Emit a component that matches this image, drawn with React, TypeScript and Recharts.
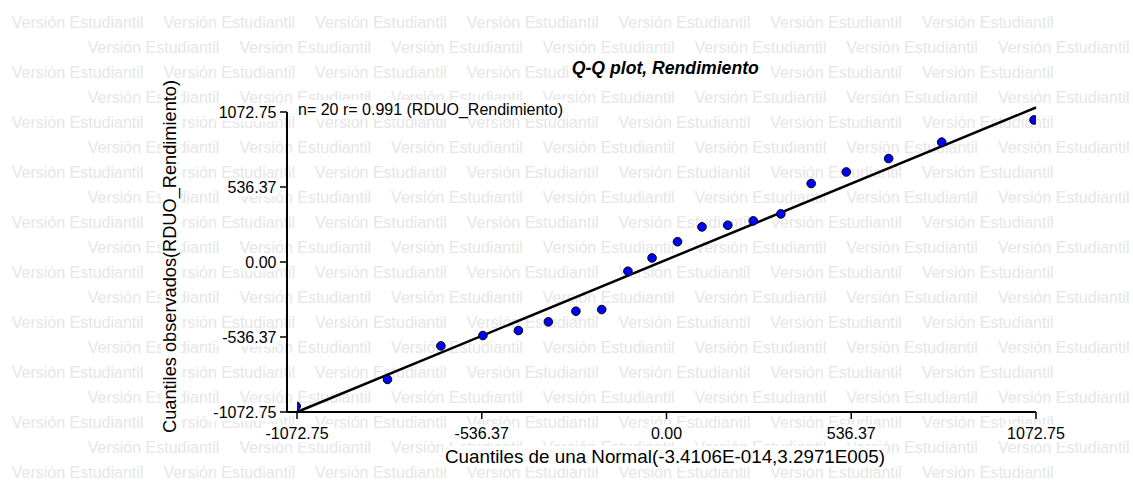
import React from "react";
import {
  ScatterChart,
  Scatter,
  XAxis,
  YAxis,
  ReferenceLine,
} from "recharts";

// theoretical normal quantiles (x) vs observed residual quantiles (y)
const normalQuantiles = [
  -1075, -810, -655, -533, -430, -343, -263, -188, -112, -42, 32, 103, 178,
  252, 332, 420, 522, 645, 799, 1067,
];
const observedQuantiles = [
  -1031, -840, -600, -526, -490, -428, -352, -340, -66, 29, 145, 251, 263,
  294, 344, 561, 644, 740, 857, 1016,
];

// fitted line end points
const fitX = [-1072.75, 1072.75];
const fitY = [-1072.75, 1105];

const axisTicks = [-1072.75, -536.37, 0, 536.37, 1072.75];
const axisDomain = [-1072.75, 1072.75];

const watermarkText = "Versión Estudiantil";

const points = normalQuantiles.map((x, i) => ({ x, y: observedQuantiles[i] }));

const FONT = "'Liberation Sans', Arial, sans-serif";

function XTick(props: any) {
  const { x, payload } = props;
  const label = Number(payload.value).toFixed(2);
  const w = label.length * 8.4 + 4;
  return (
    <g>
      <rect x={x - w / 2} y={424} width={w} height={18} fill="#fff" />
      <text
        x={x}
        y={438.5}
        textAnchor="middle"
        fontFamily={FONT}
        fontSize={16}
        fill="#000"
      >
        {label}
      </text>
    </g>
  );
}

function YTick(props: any) {
  const { y, payload } = props;
  const label = Number(payload.value).toFixed(2);
  const w = label.length * 8.4 + 4;
  return (
    <g>
      <rect x={278 - w} y={y - 9} width={w} height={18} fill="#fff" />
      <text
        x={276.5}
        y={y + 5.8}
        textAnchor="end"
        fontFamily={FONT}
        fontSize={16}
        fill="#000"
      >
        {label}
      </text>
    </g>
  );
}

function Dot(props: any) {
  const { cx, cy } = props;
  return <circle cx={cx} cy={cy} r={4.3} fill="#0000FF" stroke="#000" strokeWidth={1} />;
}

function Watermark() {
  const rows = [];
  for (let r = 0; r < 19; r++) {
    const startX = r % 2 === 0 ? 11.7 : 87.7;
    for (let j = 0; j < 7; j++) {
      rows.push(
        <text
          key={`${r}-${j}`}
          x={startX + j * 151.7}
          y={27.5 + r * 25}
          fontFamily={FONT}
          fontSize={16}
          textLength={131.7}
          lengthAdjust="spacingAndGlyphs"
          fill="#e6e6e6"
        >
          {watermarkText}
        </text>
      );
    }
  }
  return (
    <svg width={1133} height={481} style={{ position: "absolute", left: 0, top: 0 }}>
      {rows}
    </svg>
  );
}

function Labels() {
  return (
    <svg
      width={1133}
      height={481}
      style={{ position: "absolute", left: 0, top: 0, pointerEvents: "none" }}
    >
      {/* title */}
      <rect x={569} y={59} width={193} height={20} fill="#fff" />
      <text
        x={665.3}
        y={74}
        textAnchor="middle"
        fontFamily={FONT}
        fontSize={17.5}
        fontWeight="bold"
        fontStyle="italic"
        textLength={187}
        lengthAdjust="spacingAndGlyphs"
      >
        Q-Q plot, Rendimiento
      </text>

      {/* stats */}
      <rect x={294} y={100} width={272} height={19} fill="#fff" />
      <text x={298} y={115} fontFamily={FONT} fontSize={16}>
        n= 20 r= 0.991 (RDUO_Rendimiento)
      </text>

      {/* x axis title */}
      <rect x={443} y={446} width={444} height={21} fill="#fff" />
      <text
        x={665}
        y={462.5}
        textAnchor="middle"
        fontFamily={FONT}
        fontSize={18.5}
        textLength={440}
        lengthAdjust="spacingAndGlyphs"
      >
        Cuantiles de una Normal(-3.4106E-014,3.2971E005)
      </text>

      {/* y axis title */}
      <g transform="translate(176,256.5) rotate(-90)">
        <rect x={-178} y={-15} width={356} height={20} fill="#fff" />
        <text
          x={0}
          y={0}
          textAnchor="middle"
          fontFamily={FONT}
          fontSize={18.5}
          textLength={353}
          lengthAdjust="spacingAndGlyphs"
        >
          Cuantiles observados(RDUO_Rendimiento)
        </text>
      </g>
    </svg>
  );
}

export default function App() {
  return (
    <div
      style={{
        position: "absolute",
        left: 0,
        top: 0,
        width: 1133,
        height: 481,
        background: "#fff",
        overflow: "hidden",
      }}
    >
      <Watermark />
      <div style={{ position: "absolute", left: 0, top: 0 }}>
        <ScatterChart
          width={1133}
          height={481}
          margin={{ top: 112, right: 97, bottom: 39, left: 187 }}
        >
          <XAxis
            type="number"
            dataKey="x"
            domain={axisDomain}
            ticks={axisTicks}
            allowDataOverflow
            padding={{ left: 10, right: 0 }}
            height={30}
            tickSize={7}
            tick={(p: any) => <XTick {...p} />}
            tickLine={{ stroke: "#000", strokeWidth: 1.5 }}
            axisLine={{ stroke: "#000", strokeWidth: 2 }}
          />
          <YAxis
            type="number"
            dataKey="y"
            domain={axisDomain}
            ticks={axisTicks}
            allowDataOverflow
            width={100}
            tickSize={7}
            tick={(p: any) => <YTick {...p} />}
            tickLine={{ stroke: "#000", strokeWidth: 1.5 }}
            axisLine={{ stroke: "#000", strokeWidth: 2 }}
          />
          <ReferenceLine
            segment={[
              { x: fitX[0], y: fitY[0] },
              { x: fitX[1], y: fitY[1] },
            ]}
            stroke="#000"
            strokeWidth={2.5}
            ifOverflow="visible"
          />
          <Scatter data={points} shape={Dot} isAnimationActive={false} />
        </ScatterChart>
      </div>
      <Labels />
    </div>
  );
}
